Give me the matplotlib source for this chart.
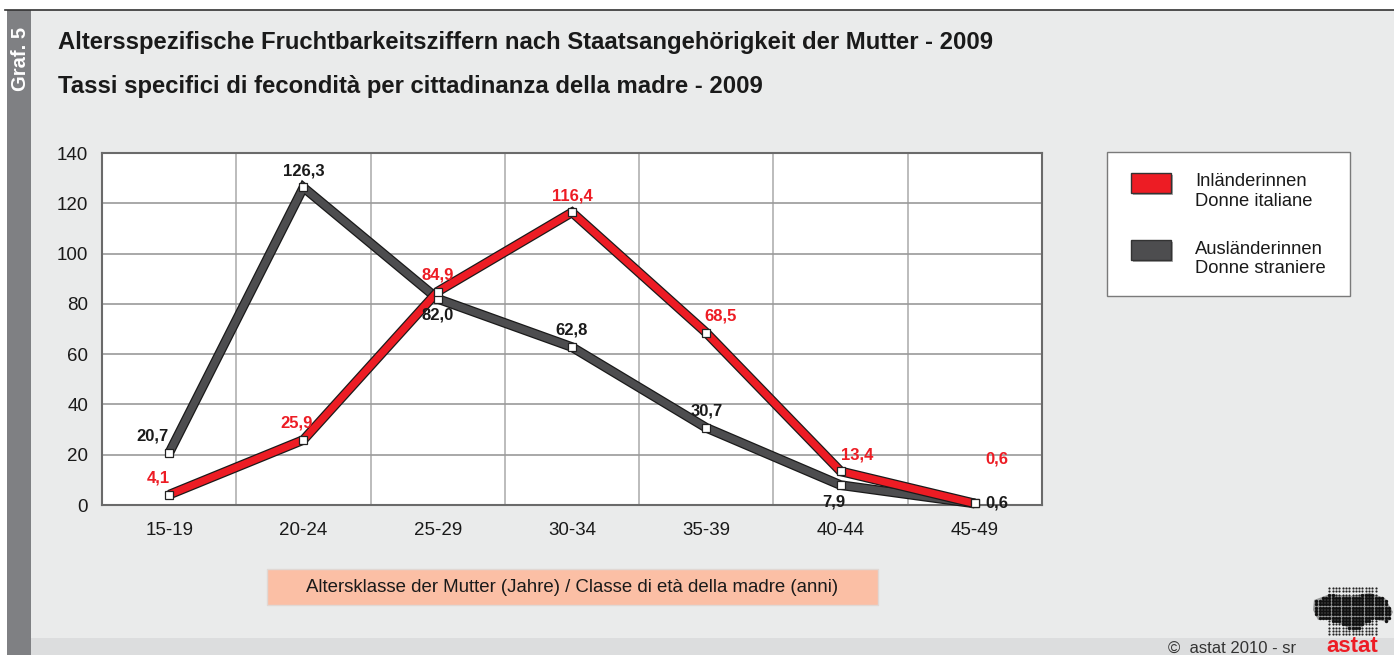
import numpy as np
import matplotlib
matplotlib.use("Agg")
import matplotlib.pyplot as plt
import matplotlib.patheffects as pe
from matplotlib.patches import Rectangle, PathPatch
from matplotlib.path import Path

plt.rcParams['font.family'] = ['Liberation Sans', 'DejaVu Sans']

# Data
age_classes = ['15-19', '20-24', '25-29', '30-34', '35-39', '40-44', '45-49']
inland = [4.1, 25.9, 84.9, 116.4, 68.5, 13.4, 0.6]
ausland = [20.7, 126.3, 82.0, 62.8, 30.7, 7.9, 0.6]
y_ticks = [0, 20, 40, 60, 80, 100, 120, 140]

title_de = 'Altersspezifische Fruchtbarkeitsziffern nach Staatsangehörigkeit der Mutter - 2009'
title_it = 'Tassi specifici di fecondità per cittadinanza della madre - 2009'
xlabel_txt = 'Altersklasse der Mutter (Jahre) / Classe di età della madre (anni)'
legend_names = [('Inländerinnen', 'Donne italiane'), ('Ausländerinnen', 'Donne straniere')]

RED = '#ED1C24'
GREY = '#4D4D4F'
BG = '#EAEBEB'

W, H = 1394, 655
fig = plt.figure(figsize=(W / 100, H / 100), dpi=100)
fig.patch.set_facecolor('white')


def fx(x):
    return x / W


def fy(y):
    return 1 - y / H


def box(x0, y0, x1, y1, **kw):
    fig.patches.append(Rectangle((fx(x0), fy(y1)), fx(x1 - x0), (y1 - y0) / H,
                                 transform=fig.transFigure, **kw))


# background panels
box(31, 10, W, H, facecolor=BG, edgecolor='none', zorder=-10)
box(31, 638, W, H, facecolor='#DCDDDE', edgecolor='none', zorder=-9)
box(7, 10, 31, H, facecolor='#7F8083', edgecolor='none', zorder=-9)
fig.add_artist(plt.Line2D([fx(5), 1], [fy(9.5), fy(9.5)], color='#333333', lw=1.2,
                          transform=fig.transFigure, zorder=-8))
fig.text(fx(20), fy(27), 'Graf. 5', rotation=90, color='white', fontsize=14.5,
         fontweight='bold', ha='center', va='top')

# titles
fig.text(fx(58), fy(43), title_de, fontsize=17.2, fontweight='bold', color='#1a1a1a',
         ha='left', va='center')
fig.text(fx(58), fy(87), title_it, fontsize=17.2, fontweight='bold', color='#1a1a1a',
         ha='left', va='center')

# main axes
ax = fig.add_axes([fx(102), fy(505), fx(1042 - 102), (505 - 153) / H])
ax.set_facecolor('white')
x = np.arange(len(age_classes))
ax.set_xlim(-0.5, len(age_classes) - 0.5)
ax.set_ylim(0, 140)
ax.set_yticks(y_ticks)
ax.set_xticks(x)
ax.set_xticklabels(age_classes)
ax.set_xticks(np.arange(len(age_classes) + 1) - 0.5, minor=True)
ax.tick_params(axis='both', which='both', length=0, labelsize=13.5, colors='#1a1a1a', pad=10)
ax.tick_params(axis='x', pad=12)
ax.grid(True, axis='y', which='major', color='#9a9a9a', lw=1.2)
ax.grid(True, axis='x', which='minor', color='#b0b0b0', lw=1.2)
ax.grid(False, axis='x', which='major')
for s in ax.spines.values():
    s.set_color('#6a6a6a')
    s.set_linewidth(1.5)

outline = [pe.Stroke(linewidth=7, foreground='#1a1a1a'), pe.Normal()]
ax.plot(x, ausland, color=GREY, lw=5.2, solid_capstyle='butt', solid_joinstyle='miter',
        path_effects=outline, zorder=3, clip_on=False)
ax.plot(x, inland, color=RED, lw=5.2, solid_capstyle='butt', solid_joinstyle='miter',
        path_effects=outline, zorder=4, clip_on=False)
ax.plot(x, ausland, ls='none', marker='s', ms=5.5, mfc='white', mec='#222222', mew=0.9,
        zorder=5, clip_on=False)
ax.plot(x, inland, ls='none', marker='s', ms=5.5, mfc='white', mec='#222222', mew=0.9,
        zorder=6, clip_on=False)


def fmt(v):
    return f'{v:.1f}'.replace('.', ',')


# label offsets in points (dx, dy)
off_in = [(-8, 12), (-5, 12), (0, 12), (0, 12), (10, 12), (12, 12), (16, 32)]
off_aus = [(-12, 12), (0, 12), (0, -12), (0, 12), (0, 12), (-5, -12), (16, 0)]
for i in range(len(age_classes)):
    ax.annotate(fmt(inland[i]), (x[i], inland[i]), xytext=off_in[i], textcoords='offset points',
                ha='center', va='center', color=RED, fontsize=12, fontweight='bold',
                zorder=8, annotation_clip=False)
    ax.annotate(fmt(ausland[i]), (x[i], ausland[i]), xytext=off_aus[i], textcoords='offset points',
                ha='center', va='center', color='#1a1a1a', fontsize=12, fontweight='bold',
                zorder=8, annotation_clip=False)

# legend
box(1107, 152, 1350, 296, facecolor='white', edgecolor='#7a7a7a', lw=1.0, zorder=1)
for (l1, l2), col, y0 in zip(legend_names, [RED, GREY], [173, 240]):
    box(1133, y0 + 2, 1173, y0 + 22, facecolor='#aaaaaa', edgecolor='none', zorder=2)
    box(1131, y0, 1171, y0 + 20, facecolor=col, edgecolor='#333333', lw=1.0, zorder=3)
    fig.text(fx(1195), fy(y0 + 9), l1, fontsize=13.2, color='#1a1a1a', va='center', ha='left')
    fig.text(fx(1195), fy(y0 + 29), l2, fontsize=13.2, color='#1a1a1a', va='center', ha='left')

# x label box
box(267, 569, 878, 605, facecolor='#FBBFA5', edgecolor='#e0d8d4', lw=1.0, zorder=1)
fig.text(fx(572.5), fy(588), xlabel_txt, fontsize=13.4, color='#1a1a1a',
         ha='center', va='center')

# footer
fig.text(fx(1296), fy(648), '\u00a9  astat 2010 - sr', fontsize=12, color='#333333',
         ha='right', va='center')
fig.text(fx(1352), fy(647), 'astat', fontsize=16, fontweight='bold', color=RED,
         ha='center', va='center')

# logo dots
lx = fig.add_axes([fx(1310), fy(640), fx(84), (640 - 585) / H])
lx.set_xlim(1310, 1394)
lx.set_ylim(640, 585)
lx.axis('off')
gx, gy = np.meshgrid(np.arange(1313, 1392, 3.3), np.arange(588, 637, 3.3))
gx, gy = gx.ravel(), gy.ravel()
grid_box = Path([(1327, 587), (1378, 587), (1378, 637), (1327, 637)])
blob = Path([(1314, 600), (1330, 594), (1350, 596), (1370, 593), (1385, 598), (1393, 612),
             (1388, 622), (1372, 619), (1362, 627), (1353, 631), (1345, 626), (1330, 620),
             (1318, 620), (1313, 610)])
lx.add_patch(PathPatch(blob, facecolor='#3a3a3a', edgecolor='none', alpha=0.45))
pts = np.column_stack([gx, gy])
in_blob = blob.contains_points(pts)
in_grid = grid_box.contains_points(pts)
lx.scatter(gx[in_grid & ~in_blob], gy[in_grid & ~in_blob], s=2.5, c='#222222', lw=0)
lx.scatter(gx[in_blob], gy[in_blob], s=6, c='#111111', lw=0)

fig.savefig('out.png', dpi=100, facecolor=fig.get_facecolor())
